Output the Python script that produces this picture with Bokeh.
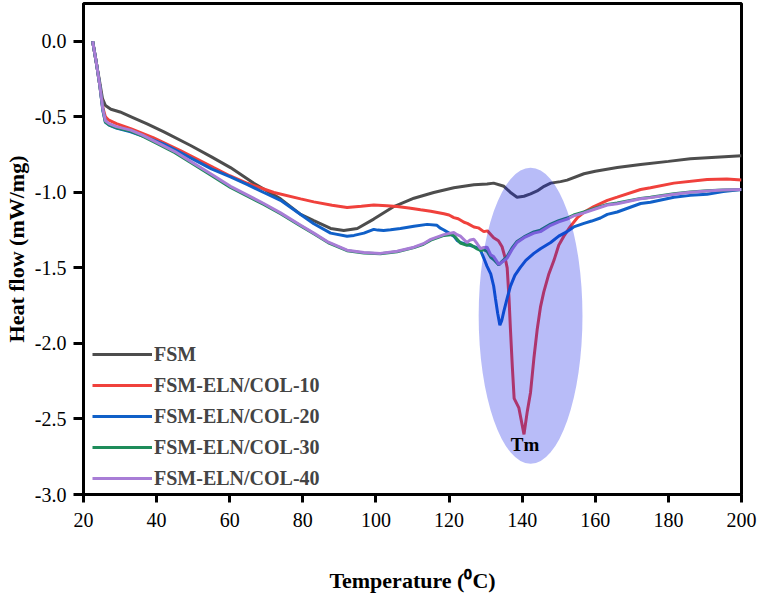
from bokeh.plotting import figure
from bokeh.models import Range1d, FixedTicker, Legend
from bokeh.core.properties import value
from bokeh.embed import file_html
from bokeh.resources import INLINE

# ---------------- data ----------------
fsm_x = [22.5, 23.5, 24.5, 25.2, 26.0, 27.5, 30.0, 33.5, 37.4, 42.0, 49.3, 55.0, 60.2, 66.6,
         73.9, 79.4, 83.0, 87.6, 91.2, 94.9, 99.4, 104.9, 110.4, 115.8, 121.3, 126.8, 130.4,
         132.2, 135.0, 137.0, 138.6, 140.5, 142.3, 144.1, 146.0, 147.8, 150.5, 152.3, 156.9,
         160.0, 166.0, 172.4, 180.0, 186.0, 193.0, 200.0]
fsm_y = [0.0, -0.14, -0.28, -0.38, -0.425, -0.45, -0.468, -0.505, -0.547, -0.6, -0.69, -0.765,
         -0.836, -0.94, -1.043, -1.146, -1.187, -1.239, -1.253, -1.239, -1.177, -1.094, -1.039,
         -1.001, -0.970, -0.95, -0.944, -0.939, -0.96, -1.005, -1.032, -1.026, -1.01, -0.991,
         -0.96, -0.939, -0.929, -0.919, -0.877, -0.86, -0.836, -0.815, -0.795, -0.778, -0.768,
         -0.758]

col10_x = [22.5, 23.5, 24.5, 25.3, 26.0, 26.8, 29.0, 32.9, 39.2, 46.5, 55.6, 60.0, 64.8, 72.1,
           79.4, 83.0, 88.0, 92.1, 96.0, 99.4, 103.0, 105.8, 109.0, 112.2, 115.0, 118.6, 120.0,
           121.3, 122.5, 124.1, 125.0, 126.8, 128.0, 129.5, 130.5, 132.2, 133.5, 134.5, 135.3,
           135.9, 136.4, 136.8, 137.3, 137.8, 139.1, 140.5, 141.4, 142.3, 143.2, 144.1, 145.0,
           145.9, 147.3, 148.7, 150.0, 151.4, 153.2, 155.2, 157.0, 159.6, 163.3, 166.0, 172.4,
           175.1, 181.5, 190.6, 196.0, 200.0]
col10_y = [0.0, -0.14, -0.3, -0.44, -0.5, -0.52, -0.545, -0.578, -0.64, -0.723, -0.836, -0.89,
           -0.94, -1.001, -1.043, -1.063, -1.085, -1.1, -1.092, -1.084, -1.088, -1.094, -1.103,
           -1.115, -1.125, -1.142, -1.15, -1.167, -1.175, -1.198, -1.205, -1.229, -1.235, -1.26,
           -1.255, -1.30, -1.32, -1.36, -1.43, -1.5, -1.7, -1.91, -2.15, -2.364, -2.427, -2.602,
           -2.45, -2.323, -2.1, -1.91, -1.76, -1.66, -1.54, -1.45, -1.35, -1.29, -1.225, -1.165,
           -1.13, -1.094, -1.053, -1.032, -0.981, -0.97, -0.939, -0.915, -0.912, -0.919]

col20_x = [22.5, 23.5, 24.5, 25.3, 26.0, 27.0, 29.0, 32.9, 37.0, 42.0, 46.0, 51.1, 55.0, 60.2,
           65.0, 69.3, 73.9, 79.4, 83.0, 87.6, 92.1, 94.0, 96.7, 99.4, 100.5, 102.1, 104.0,
           106.7, 110.4, 114.0, 116.7, 117.5, 118.6, 120.0, 121.3, 122.3, 123.1, 125.9, 127.5,
           128.6, 129.5, 130.4, 131.4, 132.2, 132.7, 133.3, 133.9, 134.4, 135.0, 135.9, 136.8,
           138.0, 139.5, 141.0, 143.2, 145.0, 147.8, 150.0, 152.3, 154.1, 156.9, 159.0, 161.4,
           163.3, 166.0, 172.4, 175.1, 181.5, 186.0, 190.6, 195.0, 200.0]
col20_y = [0.0, -0.14, -0.3, -0.46, -0.537, -0.555, -0.575, -0.599, -0.635, -0.681, -0.73,
           -0.795, -0.845, -0.898, -0.95, -1.001, -1.053, -1.146, -1.208, -1.27, -1.29, -1.285,
           -1.27, -1.245, -1.25, -1.253, -1.248, -1.239, -1.224, -1.212, -1.218, -1.235, -1.249,
           -1.27, -1.29, -1.32, -1.332, -1.353, -1.365, -1.383, -1.435, -1.49, -1.54, -1.62,
           -1.704, -1.80, -1.879, -1.85, -1.786, -1.70, -1.621, -1.55, -1.497, -1.45, -1.404,
           -1.373, -1.332, -1.29, -1.26, -1.229, -1.205, -1.19, -1.17, -1.146, -1.13, -1.074,
           -1.065, -1.032, -1.02, -1.012, -0.995, -0.981]

col30_x = [22.5, 23.5, 24.5, 25.3, 26.0, 27.0, 29.0, 32.9, 36.0, 40.2, 45.0, 49.3, 55.0, 60.2,
           65.0, 69.3, 73.9, 79.4, 83.0, 87.0, 92.1, 96.7, 101.2, 105.8, 110.4, 113.0, 115.0,
           118.6, 120.4, 121.3, 122.2, 123.1, 124.9, 125.8, 126.8, 127.7, 128.6, 129.5, 130.4,
           131.4, 132.2, 133.6, 134.6, 135.9, 137.2, 138.6, 140.5, 143.2, 145.0, 147.8, 150.0,
           152.3, 154.1, 156.9, 160.0, 163.3, 166.0, 172.4, 175.1, 181.5, 186.0, 190.6, 195.0,
           200.0]
col30_y = [0.0, -0.14, -0.3, -0.455, -0.535, -0.553, -0.572, -0.595, -0.627, -0.678, -0.738,
           -0.803, -0.888, -0.967, -1.027, -1.08, -1.142, -1.222, -1.274, -1.334, -1.386, -1.401,
           -1.407, -1.393, -1.366, -1.344, -1.316, -1.285, -1.28, -1.285, -1.31, -1.335, -1.35,
           -1.345, -1.36, -1.375, -1.385, -1.38, -1.39, -1.43, -1.445, -1.48, -1.455, -1.425,
           -1.37, -1.325, -1.295, -1.262, -1.25, -1.21, -1.188, -1.17, -1.15, -1.13, -1.105,
           -1.08, -1.07, -1.04, -1.032, -1.01, -0.998, -0.99, -0.984, -0.981]

col40_x = [22.5, 23.5, 24.5, 25.3, 26.0, 27.0, 29.0, 32.9, 36.0, 40.2, 45.0, 49.3, 55.0, 60.2,
           65.0, 69.3, 73.9, 79.4, 83.0, 87.0, 92.1, 96.7, 101.2, 105.8, 110.4, 113.0, 115.0,
           118.6, 120.4, 121.3, 122.2, 123.1, 124.9, 125.8, 126.8, 127.7, 128.6, 129.5, 130.4,
           131.4, 132.2, 133.6, 134.6, 135.9, 137.2, 138.6, 140.5, 143.2, 145.0, 147.8, 150.0,
           152.3, 154.1, 156.9, 160.0, 163.3, 166.0, 172.4, 175.1, 181.5, 186.0, 190.6, 195.0,
           200.0]
col40_y = [0.0, -0.14, -0.3, -0.45, -0.526, -0.545, -0.565, -0.588, -0.62, -0.671, -0.73,
           -0.795, -0.88, -0.96, -1.02, -1.074, -1.136, -1.218, -1.27, -1.33, -1.383, -1.398,
           -1.404, -1.39, -1.363, -1.34, -1.311, -1.28, -1.27, -1.266, -1.28, -1.29, -1.332,
           -1.315, -1.311, -1.34, -1.373, -1.365, -1.363, -1.414, -1.425, -1.477, -1.46, -1.435,
           -1.38, -1.332, -1.30, -1.27, -1.26, -1.218, -1.195, -1.177, -1.156, -1.136, -1.11,
           -1.084, -1.075, -1.043, -1.035, -1.012, -1.0, -0.991, -0.985, -0.981]

series_names = ["FSM", "FSM-ELN/COL-10", "FSM-ELN/COL-20", "FSM-ELN/COL-30", "FSM-ELN/COL-40"]
series_colors = ["#4d4d4d", "#f0413c", "#1060c8", "#1e8c5a", "#a87dd6"]

x_ticks = [20, 40, 60, 80, 100, 120, 140, 160, 180, 200]
x_tick_labels = ["20", "40", "60", "80", "100", "120", "140", "160", "180", "200"]
y_ticks = [-3.0, -2.5, -2.0, -1.5, -1.0, -0.5, 0.0]
y_tick_labels = ["-3.0", "-2.5", "-2.0", "-1.5", "-1.0", "-0.5", "0.0"]

tm_label = "Tm"
x_title = "Temperature (\u2070C)"
y_title = "Heat flow (mW/mg)"

# ---------------- figure ----------------
FONT = "Liberation Serif, Times New Roman, serif"
p = figure(width=757, height=600, output_backend="svg", toolbar_location=None,
           x_range=Range1d(20, 200), y_range=Range1d(-3.0, 0.25),
           min_border_left=83, min_border_right=16, min_border_top=3, min_border_bottom=106)
p.grid.visible = False
p.outline_line_color = "black"
p.outline_line_width = 3
p.background_fill_color = "white"
p.border_fill_color = "white"

all_x = [fsm_x, col10_x, col20_x, col30_x, col40_x]
all_y = [fsm_y, col10_y, col20_y, col30_y, col40_y]
renderers = []
for xs, ys, c in zip(all_x, all_y, series_colors):
    renderers.append(p.line(xs, ys, line_color=c, line_width=3))

# highlighted melting region (semi-transparent overlay)
p.ellipse(x=[142.3], y=[-1.817], width=[28.4], height=[1.96],
          fill_color="#0a18e7", fill_alpha=0.29, line_color=None)

p.text(x=[140.8], y=[-2.672], text=[tm_label], text_font=value(FONT),
       text_font_style="bold", text_font_size="19px", text_color="black",
       text_align="center", text_baseline="middle")

legend = Legend(items=[(n, [r]) for n, r in zip(series_names, renderers)],
                location=(9, 4), border_line_color=None, background_fill_alpha=0,
                padding=0, margin=0, spacing=7, label_height=24, glyph_height=24,
                glyph_width=60, label_standoff=2,
                label_text_font=FONT, label_text_font_style="bold",
                label_text_font_size="20px")
p.add_layout(legend, "center")

for ax in (p.xaxis[0], p.yaxis[0]):
    ax.axis_line_width = 3
    ax.axis_line_color = "black"
    ax.major_tick_line_width = 3
    ax.major_tick_in = 0
    ax.minor_tick_line_color = None
    ax.major_label_text_font = FONT
    ax.major_label_text_font_size = "20px"
    ax.major_label_text_color = "black"
    ax.axis_label_text_font = FONT
    ax.axis_label_text_font_style = "bold"
    ax.axis_label_text_font_size = "22px"
    ax.axis_label_text_color = "black"

xa = p.xaxis[0]
xa.ticker = FixedTicker(ticks=x_ticks)
xa.major_label_overrides = dict(zip(x_ticks, x_tick_labels))
xa.major_tick_out = 8
xa.major_label_standoff = 10
xa.axis_label = x_title
xa.axis_label_standoff = 38

ya = p.yaxis[0]
ya.ticker = FixedTicker(ticks=y_ticks)
ya.major_label_overrides = dict(zip(y_ticks, y_tick_labels))
ya.major_tick_out = 10
ya.major_label_standoff = 7
ya.axis_label = y_title
ya.axis_label_standoff = 3

open("out.html", "w").write(file_html(p, INLINE))
